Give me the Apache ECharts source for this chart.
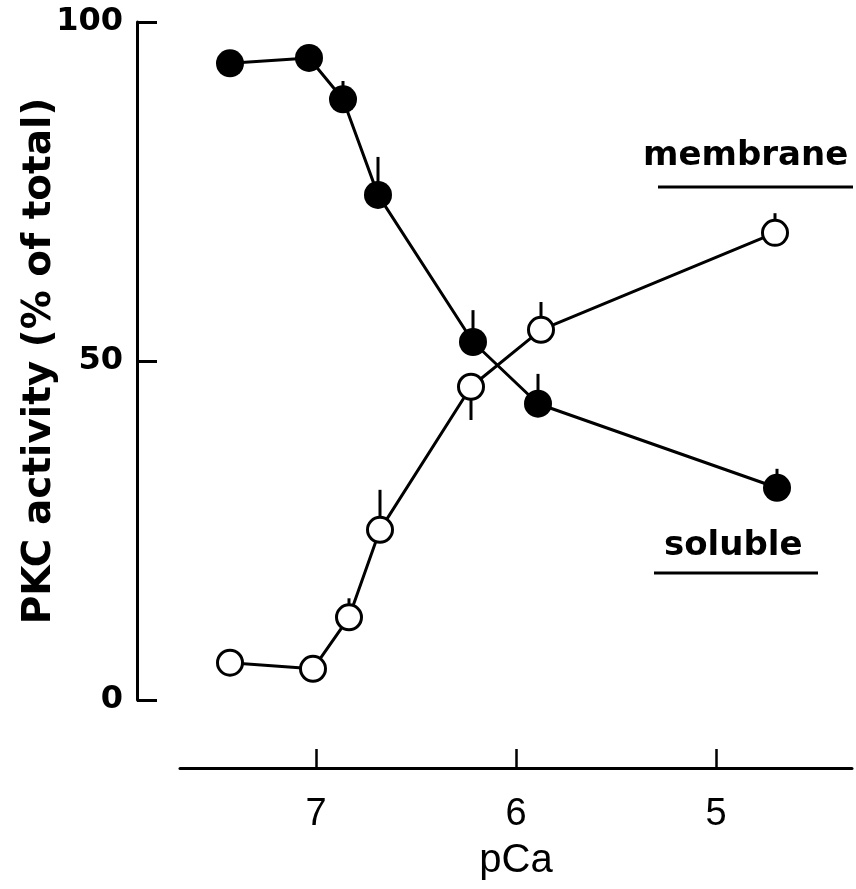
<!DOCTYPE html>
<html>
<head>
<meta charset="utf-8">
<script src="https://cdn.jsdelivr.net/npm/echarts@6/dist/echarts.min.js"></script>
<style>
html,body{margin:0;padding:0;background:#fff;}
#chart{width:856px;height:889px;}
</style>
</head>
<body>
<div id="chart"></div>
<script>
// pCa positions and PKC activity (% of total)
const pCaSoluble = [7.43, 7.035, 6.865, 6.69, 6.215, 5.89, 4.695];
const soluble = [93.9, 94.7, 88.6, 74.5, 52.8, 43.7, 31.3];
const solubleErrEnd = [null, null, 91.3, 80.1, 57.5, 48.1, 34.1];

const pCaMembrane = [7.43, 7.015, 6.835, 6.68, 6.225, 5.875, 4.705];
const membrane = [5.5, 4.6, 12.2, 25.1, 46.2, 54.6, 68.9];
const membraneErrEnd = [null, null, 15.0, 31.0, 41.3, 58.7, 71.8];

const xTicks = [5, 6, 7];
const yTicks = [0, 50, 100];

const pairs = (xs, ys) => xs.map((x, i) => [x, ys[i]]);
const errs = (xs, ys, es) => xs.map((x, i) => [x, ys[i], es[i]]).filter(d => d[2] != null);

const chart = echarts.init(document.getElementById('chart'), null, {renderer: 'canvas'});

function errorSeries(data) {
  return {
    type: 'custom',
    z: 1,
    data: data,
    encode: {x: 0, y: 1},
    renderItem: function (params, api) {
      const p1 = api.coord([api.value(0), api.value(1)]);
      const p2 = api.coord([api.value(0), api.value(2)]);
      return {
        type: 'line',
        shape: {x1: p1[0], y1: p1[1], x2: p2[0], y2: p2[1]},
        style: {stroke: '#000', lineWidth: 3}
      };
    }
  };
}

const option = {
  backgroundColor: '#fff',
  animation: false,
  grid: {left: 180, right: 4, top: 22, bottom: 189},
  xAxis: {
    type: 'value',
    inverse: true,
    min: 4.32,
    max: 7.68,
    offset: 68,
    splitLine: {show: false},
    axisLine: {onZero: false, lineStyle: {color: '#000', width: 3}},
    axisTick: {inside: true, length: 19, lineStyle: {color: '#000', width: 2.5}, customValues: xTicks},
    axisLabel: {customValues: xTicks, color: '#000', fontFamily: 'Liberation Sans', fontSize: 38, margin: 28},
    name: 'pCa',
    nameLocation: 'middle',
    nameGap: 73,
    nameTextStyle: {color: '#000', fontFamily: 'Liberation Sans', fontSize: 40}
  },
  yAxis: {
    type: 'value',
    min: 0,
    max: 100,
    interval: 50,
    offset: 43,
    splitLine: {show: false},
    axisLine: {show: true, onZero: false, lineStyle: {color: '#000', width: 3}},
    axisTick: {show: true, inside: true, length: 20, lineStyle: {color: '#000', width: 3}},
    axisLabel: {color: '#000', fontFamily: 'DejaVu Sans', fontWeight: 'bold', fontSize: 32, margin: 14},
    name: 'PKC activity (% of total)',
    nameLocation: 'middle',
    nameRotate: 90,
    nameGap: 78,
    nameMoveOverlap: false,
    nameTextStyle: {color: '#000', fontFamily: 'DejaVu Sans', fontWeight: 'bold', fontSize: 39}
  },
  series: [
    errorSeries(errs(pCaSoluble, soluble, solubleErrEnd)),
    errorSeries(errs(pCaMembrane, membrane, membraneErrEnd)),
    {
      name: 'soluble',
      type: 'line',
      z: 3,
      data: pairs(pCaSoluble, soluble),
      symbol: 'circle',
      symbolSize: 28,
      lineStyle: {color: '#000', width: 3},
      itemStyle: {color: '#000', borderColor: '#000', borderWidth: 0}
    },
    {
      name: 'membrane',
      type: 'line',
      z: 3,
      data: pairs(pCaMembrane, membrane),
      symbol: 'circle',
      symbolSize: 25,
      lineStyle: {color: '#000', width: 3},
      itemStyle: {color: '#fff', borderColor: '#000', borderWidth: 3}
    }
  ],
  graphic: [
    {type: 'text', left: 643, top: 139, style: {text: 'membrane', fill: '#000', font: 'bold 34px "DejaVu Sans"'}},
    {type: 'line', shape: {x1: 658, y1: 187, x2: 853, y2: 187}, style: {stroke: '#000', lineWidth: 3}},
    {type: 'text', left: 664, top: 529, style: {text: 'soluble', fill: '#000', font: 'bold 34px "DejaVu Sans"'}},
    {type: 'line', shape: {x1: 654, y1: 573, x2: 818, y2: 573}, style: {stroke: '#000', lineWidth: 3}}
  ]
};
chart.setOption(option);
</script>
</body>
</html>
